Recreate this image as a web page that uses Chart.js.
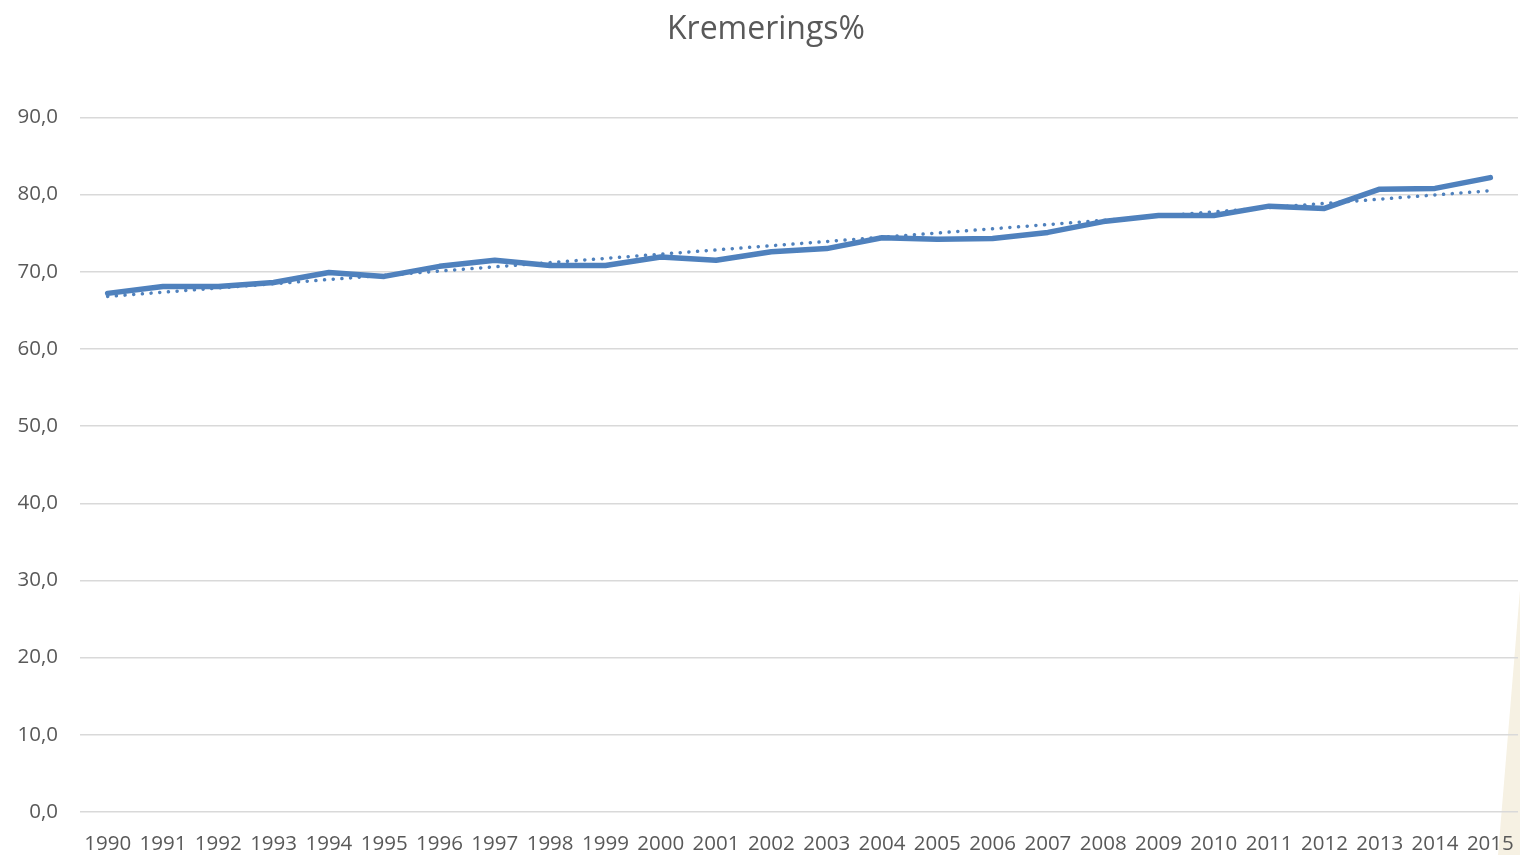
<!DOCTYPE html>
<html>
<head>
<meta charset="utf-8">
<script src="https://cdn.jsdelivr.net/npm/chart.js@4/dist/chart.umd.min.js"></script>
<style>
  body { margin: 0; background: #fff; }
  #wrap { position: relative; width: 1520px; height: 855px; }
  #corner { position: absolute; right: 0; top: 590px; width: 22px; height: 265px; z-index: 0;
            background: #f6f1e3; clip-path: polygon(100% 0, 100% 100%, 0 100%); }
  #chart { position: relative; z-index: 1; }
</style>
</head>
<body>
<div id="wrap">
  <div id="corner"></div>
  <canvas id="chart" width="1520" height="855"></canvas>
</div>
<script>
// years on the x axis
const years = ['1990','1991','1992','1993','1994','1995','1996','1997','1998','1999',
  '2000','2001','2002','2003','2004','2005','2006','2007','2008','2009',
  '2010','2011','2012','2013','2014','2015'];

// cremation percentage per year
const kremering = [67.2, 68.1, 68.1, 68.6, 69.9, 69.4, 70.7, 71.5, 70.8, 70.8,
  71.9, 71.5, 72.6, 73.0, 74.4, 74.2, 74.3, 75.1, 76.5, 77.3,
  77.3, 78.5, 78.2, 80.7, 80.8, 82.2];

// linear trend line, only its two ends
const trendStart = 66.8;
const trendEnd = 80.5;
const trend = years.map((y, i) => i === 0 ? trendStart : (i === years.length - 1 ? trendEnd : null));

const yTicks = [0, 10, 20, 30, 40, 50, 60, 70, 80, 90];

const grey = '#595959';
const blue = '#4f81bd';

document.addEventListener('DOMContentLoaded', function() {
    const ctx = document.getElementById('chart').getContext('2d');
    new Chart(ctx, {
        type: 'line',
        data: {
            labels: years,
            datasets: [{
                label: 'Kremerings%',
                data: kremering,
                borderColor: blue,
                borderWidth: 5.5,
                borderCapStyle: 'round',
                borderJoinStyle: 'round',
                pointRadius: 0,
                tension: 0,
                order: 1
            }, {
                label: 'Lineær (Kremerings%)',
                data: trend,
                spanGaps: true,
                borderColor: blue,
                borderWidth: 3.5,
                borderDash: [0.1, 8.6],
                borderCapStyle: 'round',
                pointRadius: 0,
                order: 2
            }]
        },
        options: {
            responsive: false,
            animation: false,
            layout: { padding: { left: 14, right: 2, top: 0, bottom: 0 } },
            plugins: {
                legend: { display: false },
                tooltip: { enabled: false },
                title: {
                    display: true,
                    text: 'Kremerings%',
                    color: grey,
                    font: { family: 'Open Sans', size: 32, weight: 'normal' },
                    padding: { top: 11, bottom: 68 }
                }
            },
            scales: {
                x: {
                    offset: true,
                    grid: { display: false },
                    border: { display: false },
                    afterFit: s => { s.height = 43; s.paddingLeft = 0; s.paddingRight = 0; },
                    ticks: {
                        color: grey,
                        font: { family: 'Open Sans', size: 20.5 },
                        maxRotation: 0,
                        autoSkip: false,
                        padding: 12
                    }
                },
                y: {
                    min: 0,
                    max: 90,
                    afterBuildTicks: axis => { axis.ticks = yTicks.map(v => ({ value: v })); },
                    afterFit: s => { s.width = 66; s.paddingTop = 0; s.paddingBottom = 0; },
                    grid: { color: '#d9d9d9', lineWidth: 1.5, drawTicks: false },
                    border: { display: false },
                    ticks: {
                        color: grey,
                        font: { family: 'Open Sans', size: 20.5 },
                        padding: 22,
                        callback: v => v.toFixed(1).replace('.', ',')
                    }
                }
            }
        }
    });
});
</script>
</body>
</html>
